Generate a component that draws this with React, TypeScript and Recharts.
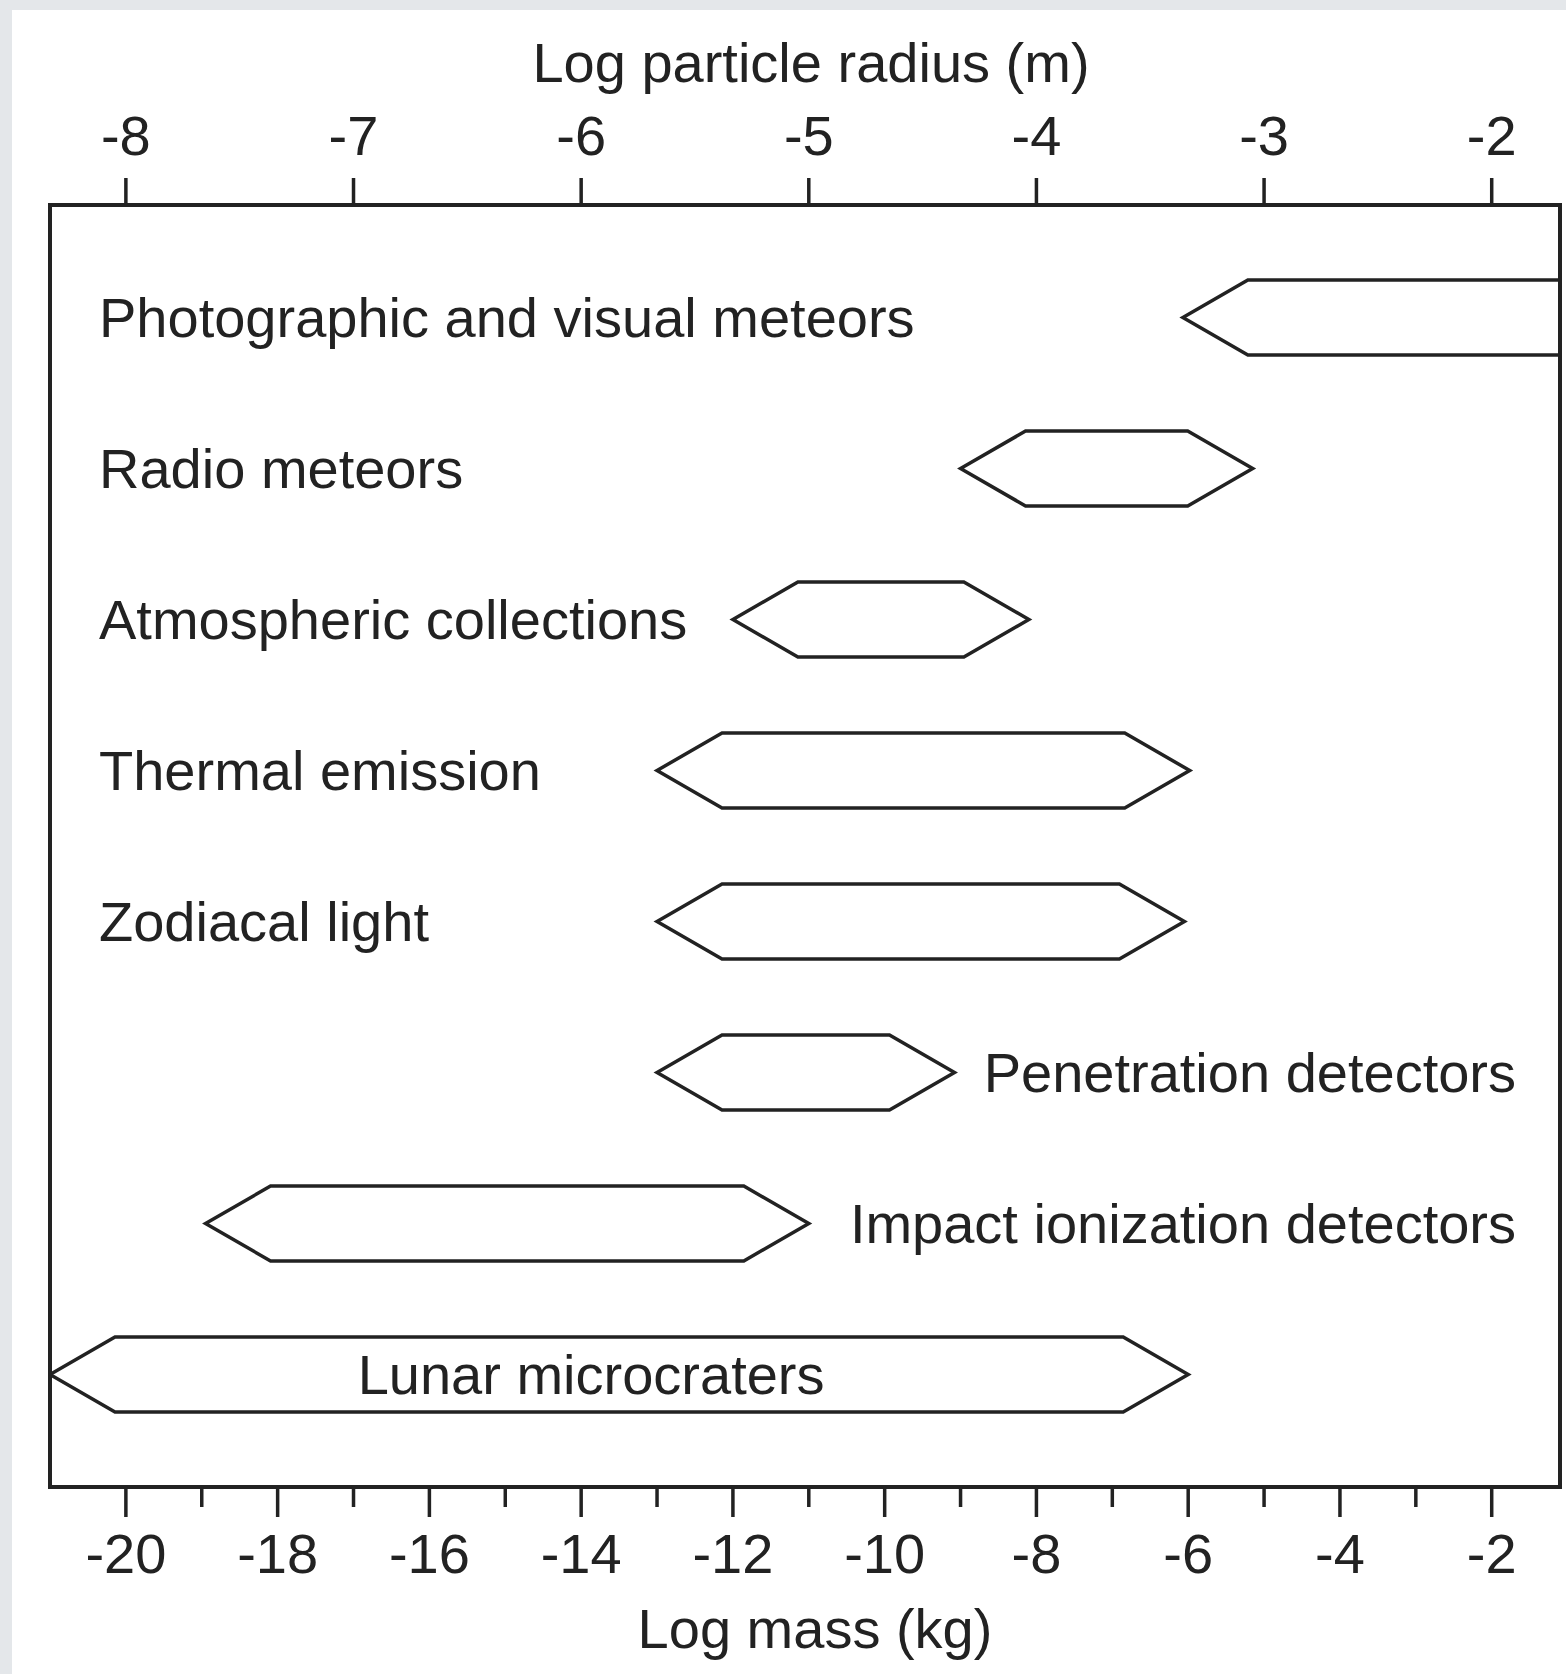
import { Bar, BarChart, Label, LabelList, XAxis, YAxis } from "recharts"

// rows, top to bottom
const CATEGORIES = [
  "Photographic and visual meteors",
  "Radio meteors",
  "Atmospheric collections",
  "Thermal emission",
  "Zodiacal light",
  "Penetration detectors",
  "Impact ionization detectors",
  "Lunar microcraters",
]

// log mass (kg) range covered by each technique
const MASS_FROM = [-6.07, -9.0, -12.0, -13.0, -13.0, -13.0, -18.95, -21.0]
const MASS_TO = [0, -5.15, -8.1, -5.98, -6.05, -9.08, -11.0, -6.0]

// where the row name goes relative to its band
const LABEL_SIDE = ["left", "left", "left", "left", "left", "right", "right", "inside"]

const MASS_DOMAIN = [-21, -1.1]
const MASS_TICKS = [-20, -19, -18, -17, -16, -15, -14, -13, -12, -11, -10, -9, -8, -7, -6, -5, -4, -3, -2]
const RADIUS_TICKS = [-8, -7, -6, -5, -4, -3, -2]

// m ~ r^3, so one decade of radius is three decades of mass
const toRadius = (m: number) => -8 + (m + 20) / 3
const RADIUS_DOMAIN = MASS_DOMAIN.map(toRadius)

const data = CATEGORIES.map((name, i) => ({
  name,
  range: [MASS_FROM[i], MASS_TO[i]],
}))

const CHART_W = 1554
const CHART_H = 1664
const MARGIN = { top: 25, right: 5, bottom: 27, left: 37 }
const SIDE_AXIS_W = 1
const PLOT_LEFT = MARGIN.left + SIDE_AXIS_W
const PLOT_RIGHT = CHART_W - MARGIN.right - SIDE_AXIS_W

const INK = "#222"
const FONT = "'Liberation Sans', Arial, Helvetica, sans-serif"
const FONT_SIZE = 56

const textStyle = { fontFamily: FONT, fontSize: FONT_SIZE, fill: INK }
const frameLine = { stroke: INK, strokeWidth: 4, strokeLinecap: "square" as const }

function Hexagon(props: any) {
  const { x, y, width, height } = props
  const tip = Math.min(65, width / 2)
  const cy = y + height / 2
  const pts = [
    [x, cy],
    [x + tip, y],
    [x + width - tip, y],
    [x + width, cy],
    [x + width - tip, y + height],
    [x + tip, y + height],
  ]
  return (
    <polygon
      points={pts.map((p) => p.join(",")).join(" ")}
      fill="#fff"
      stroke={INK}
      strokeWidth={3.5}
      strokeLinejoin="miter"
    />
  )
}

function RowLabel(props: any) {
  const { index, value } = props
  const vb = props.viewBox ?? props
  const { x, y, width, height } = vb
  const base = y + height / 2 + 19
  const side = LABEL_SIDE[index]
  if (side === "right") {
    return (
      <text x={PLOT_RIGHT - 44} y={base} textAnchor="end" style={textStyle}>
        {value}
      </text>
    )
  }
  if (side === "inside") {
    return (
      <text x={x + width / 2 - 28} y={base} textAnchor="middle" style={textStyle}>
        {value}
      </text>
    )
  }
  return (
    <text x={PLOT_LEFT + 49} y={base} textAnchor="start" style={textStyle}>
      {value}
    </text>
  )
}

function BottomTick({ x, y, payload }: any) {
  const major = payload.value % 2 === 0
  return (
    <g>
      <line x1={x} x2={x} y1={y} y2={y + (major ? 30 : 20)} stroke={INK} strokeWidth={3.5} />
      {major && (
        <text x={x} y={y + 86} textAnchor="middle" style={textStyle}>
          {payload.value}
        </text>
      )}
    </g>
  )
}

function TopTick({ x, y, payload }: any) {
  return (
    <g>
      <line x1={x} x2={x} y1={y} y2={y - 27} stroke={INK} strokeWidth={3.5} />
      <text x={x} y={y - 50} textAnchor="middle" style={textStyle}>
        {payload.value}
      </text>
    </g>
  )
}

function TopTitle({ viewBox }: any) {
  return (
    <text x={viewBox.x + viewBox.width / 2 + 6} y={viewBox.y + 47} textAnchor="middle" style={textStyle}>
      Log particle radius (m)
    </text>
  )
}

function BottomTitle({ viewBox }: any) {
  return (
    <text x={viewBox.x + viewBox.width / 2 + 10} y={viewBox.y + 161} textAnchor="middle" style={textStyle}>
      Log mass (kg)
    </text>
  )
}

export default function App() {
  return (
    <div
      style={{
        position: "absolute",
        left: 0,
        top: 0,
        width: 1566,
        height: 1674,
        background: "#e4e7ea",
      }}
    >
      <div
        style={{
          position: "absolute",
          left: 12,
          top: 10,
          width: CHART_W,
          height: CHART_H,
          background: "#fff",
        }}
      >
        <BarChart width={CHART_W} height={CHART_H} data={data} layout="vertical" margin={MARGIN}>
          <XAxis
            type="number"
            domain={MASS_DOMAIN}
            allowDataOverflow
            ticks={MASS_TICKS}
            interval={0}
            height={160}
            tickSize={0}
            tickMargin={0}
            axisLine={frameLine}
            tickLine={false}
            tick={BottomTick}
          >
            <Label content={BottomTitle} />
          </XAxis>
          <XAxis
            xAxisId="top"
            orientation="top"
            type="number"
            domain={RADIUS_DOMAIN}
            allowDataOverflow
            ticks={RADIUS_TICKS}
            interval={0}
            height={170}
            tickSize={0}
            tickMargin={0}
            axisLine={frameLine}
            tickLine={false}
            tick={TopTick}
          >
            <Label content={TopTitle} />
          </XAxis>
          <YAxis
            type="category"
            dataKey="name"
            width={SIDE_AXIS_W}
            tick={false}
            tickLine={false}
            axisLine={frameLine}
            padding={{ top: 37, bottom: 37 }}
          />
          <YAxis
            yAxisId="right"
            orientation="right"
            type="category"
            dataKey="name"
            width={SIDE_AXIS_W}
            tick={false}
            tickLine={false}
            axisLine={frameLine}
          />
          <Bar dataKey="range" barSize={75} shape={Hexagon} isAnimationActive={false}>
            <LabelList dataKey="name" content={RowLabel} />
          </Bar>
        </BarChart>
      </div>
    </div>
  )
}
